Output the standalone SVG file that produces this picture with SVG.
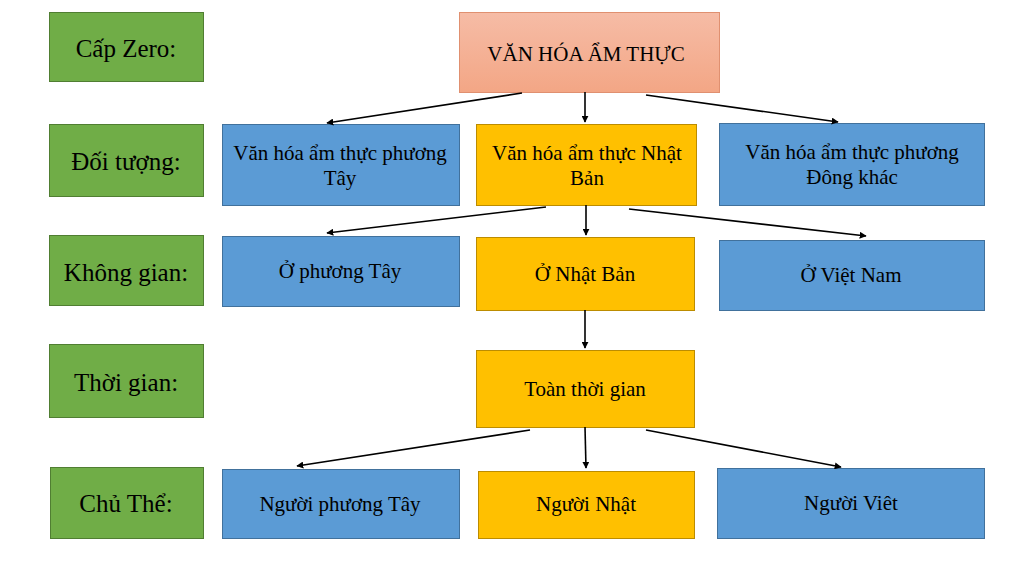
<svg xmlns="http://www.w3.org/2000/svg" width="1024" height="568" viewBox="0 0 1024 568">
<defs>
<linearGradient id="sal" x1="0" y1="0" x2="0" y2="1">
<stop offset="0" stop-color="#F6BCA6"/>
<stop offset="1" stop-color="#F3A685"/>
</linearGradient>
<marker id="ah" viewBox="0 0 10 10" refX="9" refY="5" markerWidth="7" markerHeight="7" markerUnits="userSpaceOnUse" orient="auto">
<path d="M0,0 L10,5 L0,10 z" fill="#000"/>
</marker>
<style>
.g{fill:#70AD47;stroke:#507E32;stroke-width:1}
.b{fill:#5B9BD5;stroke:#41719C;stroke-width:1}
.y{fill:#FFC000;stroke:#BC8C00;stroke-width:1}
.s{fill:url(#sal);stroke:#E09070;stroke-width:1}
text{font-family:"Liberation Serif","Times New Roman",serif;fill:#000;text-anchor:middle}
.l{font-size:25px}
.t{font-size:21px}
.c line{stroke:#000;stroke-width:1.6;marker-end:url(#ah)}
</style>
</defs>
<rect width="1024" height="568" fill="#fff"/>
<g id="lbl-cap"><rect class="g" x="49.5" y="12.5" width="154" height="69"/><text class="l" x="126" y="57">Cấp Zero:</text></g>
<g id="lbl-doi"><rect class="g" x="49.5" y="124.5" width="154" height="72"/><text class="l" x="126" y="170">Đối tượng:</text></g>
<g id="lbl-khong"><rect class="g" x="49.5" y="235.5" width="154" height="70"/><text class="l" x="126" y="281">Không gian:</text></g>
<g id="lbl-thoi"><rect class="g" x="49.5" y="344.5" width="154" height="73"/><text class="l" x="126" y="391">Thời gian:</text></g>
<g id="lbl-chu"><rect class="g" x="50.5" y="467.5" width="153" height="71"/><text class="l" x="126" y="512">Chủ Thể:</text></g>

<g id="root"><rect class="s" x="459.5" y="12.5" width="260" height="80"/><text class="t" x="586" y="61">VĂN HÓA ẨM THỰC</text></g>

<g id="obj-tay"><rect class="b" x="222.5" y="124.5" width="237" height="81"/><text class="t" x="340" y="160">Văn hóa ẩm thực phương</text><text class="t" x="340" y="185">Tây</text></g>
<g id="obj-nhat"><rect class="y" x="476.5" y="124.5" width="220" height="81"/><text class="t" x="587" y="160">Văn hóa ẩm thực Nhật</text><text class="t" x="587" y="185">Bản</text></g>
<g id="obj-dong"><rect class="b" x="719.5" y="123.5" width="265" height="82"/><text class="t" x="852" y="159">Văn hóa ẩm thực phương</text><text class="t" x="852" y="184">Đông khác</text></g>

<g id="sp-tay"><rect class="b" x="222.5" y="236.5" width="237" height="70"/><text class="t" x="340" y="278">Ở phương Tây</text></g>
<g id="sp-nhat"><rect class="y" x="476.5" y="237.5" width="218" height="73"/><text class="t" x="585" y="281">Ở Nhật Bản</text></g>
<g id="sp-viet"><rect class="b" x="719.5" y="240.5" width="265" height="70"/><text class="t" x="851" y="282">Ở Việt Nam</text></g>

<g id="tm"><rect class="y" x="476.5" y="350.5" width="218" height="77"/><text class="t" x="585" y="396">Toàn thời gian</text></g>

<g id="sub-tay"><rect class="b" x="222.5" y="469.5" width="237" height="69"/><text class="t" x="340" y="511">Người phương Tây</text></g>
<g id="sub-nhat"><rect class="y" x="478.5" y="471.5" width="216" height="67"/><text class="t" x="586" y="511">Người Nhật</text></g>
<g id="sub-viet"><rect class="b" x="717.5" y="468.5" width="267" height="70"/><text class="t" x="851" y="510">Người Viêt</text></g>

<g id="connectors" class="c">
<line x1="522" y1="93" x2="327" y2="123"/>
<line x1="585" y1="92" x2="585" y2="122"/>
<line x1="646" y1="95" x2="838" y2="122"/>
<line x1="546" y1="207" x2="327" y2="233"/>
<line x1="586" y1="205" x2="586" y2="235"/>
<line x1="629" y1="209" x2="866" y2="236"/>
<line x1="585" y1="310" x2="585" y2="348"/>
<line x1="530" y1="430" x2="297" y2="466"/>
<line x1="585" y1="427" x2="586" y2="468"/>
<line x1="646" y1="430" x2="841" y2="467"/>
</g>
</svg>
